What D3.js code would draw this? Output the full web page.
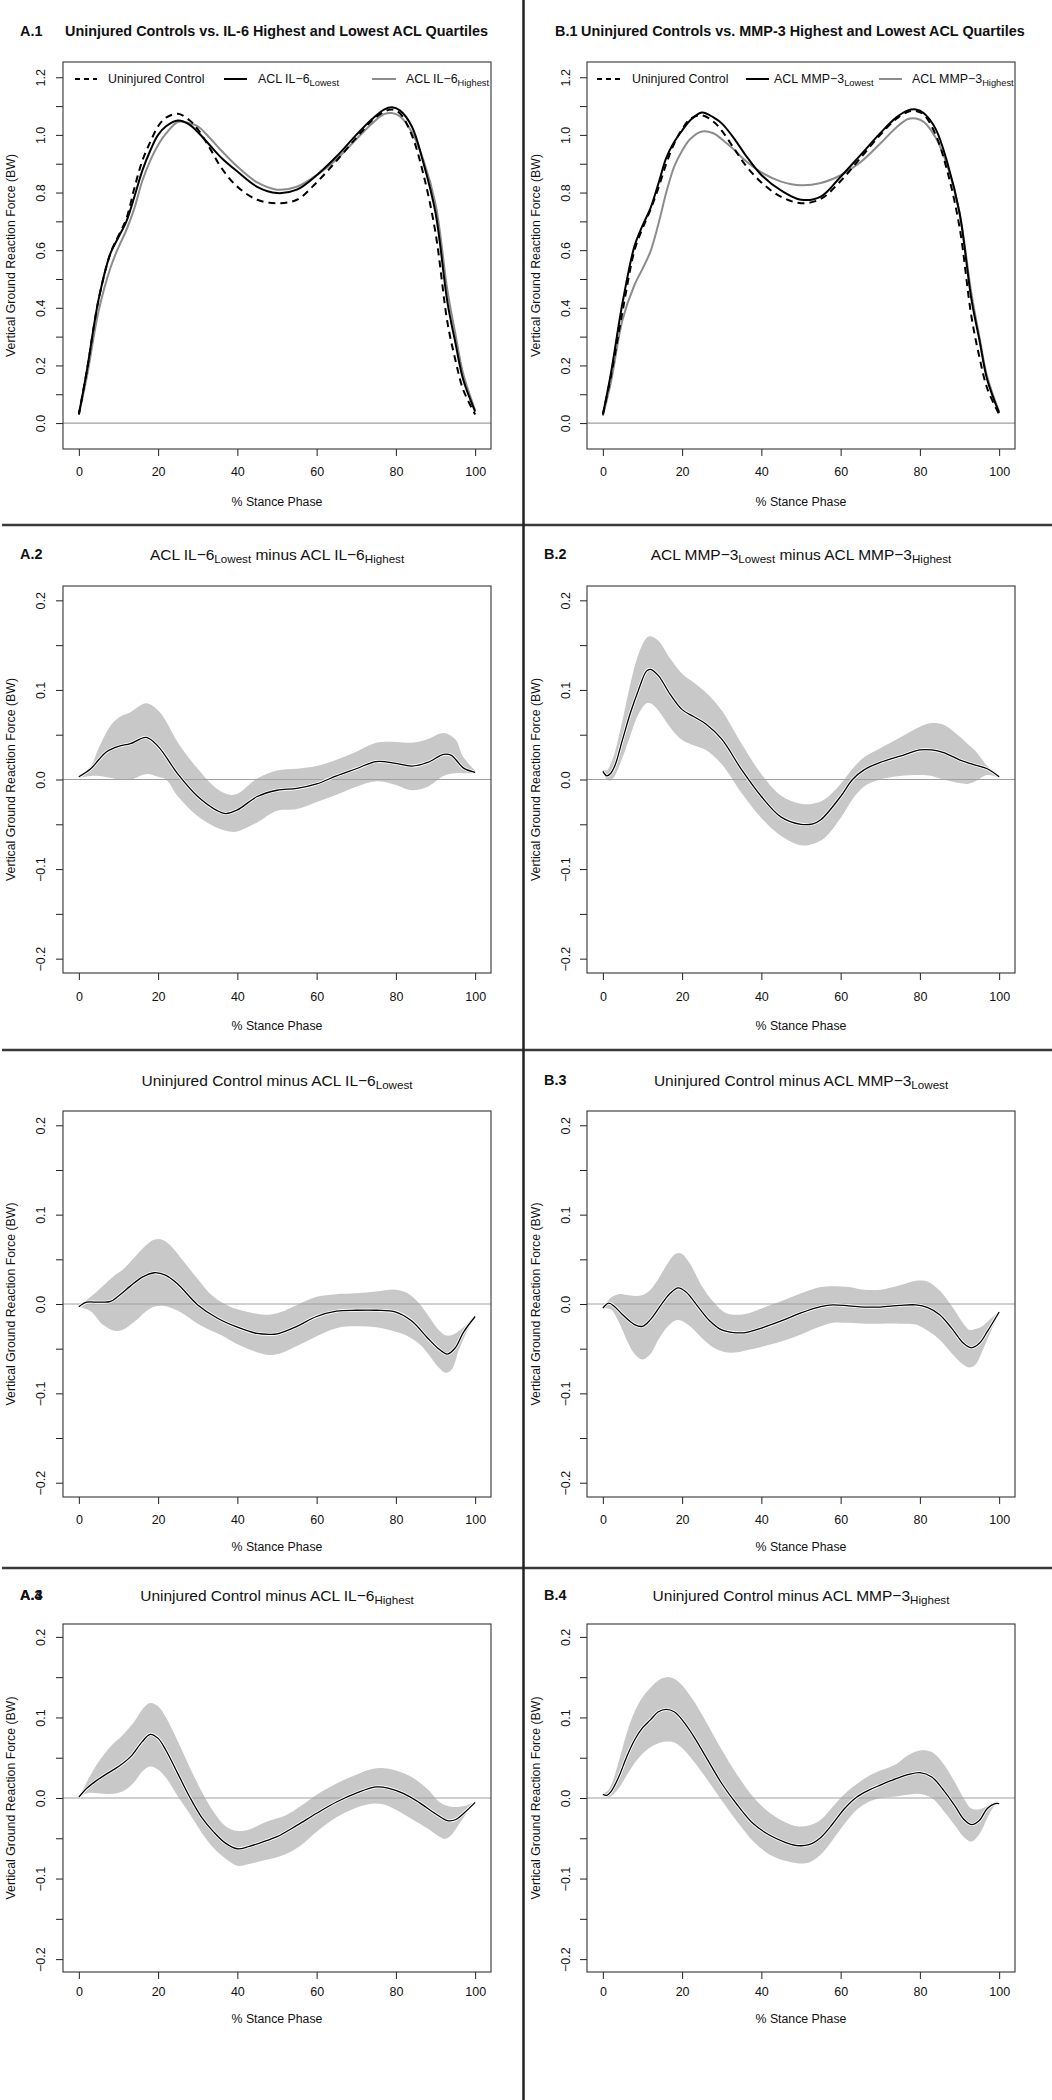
<!DOCTYPE html>
<html><head><meta charset="utf-8">
<script src="https://cdn.jsdelivr.net/npm/d3@7"></script>
<style>body{margin:0;background:#fff;} svg{display:block;}</style>
</head><body>
<script>
// ---------------- DATA ----------------
const xTicks = [0, 20, 40, 60, 80, 100];
const yTicksRaw = [0, 0.1, 0.2, 0.3, 0.4, 0.5, 0.6, 0.7, 0.8, 0.9, 1.0, 1.1, 1.2];
const yLabelsRaw = [0, 0.2, 0.4, 0.6, 0.8, 1.0, 1.2];
const yTicksDiff = [-0.2, -0.15, -0.1, -0.05, 0, 0.05, 0.1, 0.15, 0.2];
const yLabelsDiff = [-0.2, -0.1, 0, 0.1, 0.2];

const stance1X = [0,2,5,8,10,12,14,16,18,20,22,25,28,30,33,36,40,45,50,55,60,65,70,74,77,79,81,84,87,90,93,95,97,100];
const a1Control = [0.03,0.18,0.43,0.59,0.65,0.71,0.815,0.91,0.975,1.03,1.06,1.073,1.05,1.02,0.955,0.885,0.82,0.775,0.763,0.775,0.835,0.91,0.99,1.05,1.08,1.088,1.075,1.0,0.86,0.66,0.35,0.22,0.115,0.03];
const a1Lowest  = [0.03,0.18,0.43,0.59,0.645,0.7,0.785,0.875,0.945,1.0,1.03,1.05,1.035,1.01,0.965,0.92,0.873,0.82,0.798,0.81,0.86,0.925,1.0,1.055,1.088,1.096,1.085,1.03,0.9,0.73,0.42,0.28,0.15,0.04];
const a1Highest = [0.03,0.16,0.39,0.54,0.61,0.67,0.745,0.84,0.91,0.965,1.005,1.045,1.04,1.03,0.99,0.945,0.89,0.835,0.81,0.82,0.86,0.915,0.985,1.04,1.072,1.076,1.065,1.01,0.91,0.76,0.46,0.31,0.17,0.045];
const b1Control = [0.03,0.16,0.39,0.6,0.675,0.74,0.815,0.9,0.97,1.02,1.055,1.068,1.045,1.015,0.955,0.895,0.835,0.785,0.763,0.778,0.84,0.92,1.0,1.055,1.08,1.083,1.07,1.0,0.87,0.68,0.37,0.23,0.12,0.03];
const b1Lowest  = [0.03,0.17,0.42,0.615,0.685,0.745,0.83,0.92,0.975,1.015,1.05,1.078,1.06,1.04,0.99,0.93,0.861,0.807,0.775,0.786,0.855,0.93,1.006,1.06,1.085,1.088,1.075,1.02,0.9,0.73,0.43,0.29,0.15,0.035];
const b1Highest = [0.025,0.14,0.36,0.48,0.535,0.595,0.69,0.8,0.89,0.945,0.985,1.012,1.005,0.985,0.95,0.91,0.87,0.838,0.825,0.833,0.86,0.905,0.97,1.025,1.055,1.057,1.045,0.99,0.89,0.73,0.45,0.3,0.16,0.04];

const a2MeanX = [0,3,5,7,10,13,17,20,25,30,35,37,40,45,50,55,60,65,70,75,80,84,88,92,94,97,100];
const a2Mean  = [0.003,0.012,0.022,0.031,0.037,0.040,0.047,0.037,0.006,-0.019,-0.035,-0.038,-0.034,-0.019,-0.012,-0.010,-0.005,0.004,0.012,0.020,0.018,0.015,0.019,0.028,0.027,0.013,0.008];
const a2BandX = [0,3,5,8,10,13,17,20,22,25,30,35,38,40,45,50,55,60,65,70,75,80,84,88,92,95,97,100];
const a2Upper = [0.003,0.015,0.035,0.06,0.069,0.075,0.085,0.077,0.065,0.041,0.012,-0.011,-0.017,-0.016,0.001,0.01,0.012,0.015,0.022,0.031,0.041,0.042,0.041,0.045,0.052,0.045,0.025,0.01];
const a2Lower = [0.002,0.004,0.004,0.002,0.0,0.0,0.006,0.003,0.0,-0.019,-0.041,-0.054,-0.058,-0.058,-0.048,-0.035,-0.033,-0.025,-0.017,-0.008,-0.002,-0.006,-0.012,-0.008,0.004,0.007,0.007,0.007];

const b2MeanX = [0,1,2,3,5,7,9,11,12,14,17,20,23,26,30,35,40,45,50,53,55,60,63,66,70,75,80,83,86,90,94,97,100];
const b2Mean  = [0.009,0.004,0.007,0.015,0.045,0.075,0.100,0.121,0.123,0.116,0.095,0.078,0.070,0.062,0.045,0.011,-0.019,-0.042,-0.050,-0.0495,-0.045,-0.019,0.0,0.011,0.019,0.026,0.033,0.033,0.030,0.022,0.016,0.012,0.003];
const b2BandX = [0,1,2,3,5,7,9,11,12,14,17,20,23,26,30,35,40,45,50,53,56,60,63,66,70,75,80,83,86,90,92,94,97,100];
const b2Upper = [0.011,0.010,0.018,0.03,0.067,0.108,0.14,0.158,0.160,0.155,0.135,0.118,0.108,0.097,0.077,0.04,0.006,-0.018,-0.027,-0.027,-0.022,-0.005,0.012,0.025,0.035,0.047,0.059,0.063,0.061,0.048,0.040,0.032,0.015,0.004];
const b2Lower = [0.009,0.0,-0.001,0.004,0.025,0.05,0.073,0.085,0.085,0.077,0.058,0.044,0.038,0.033,0.017,-0.015,-0.043,-0.063,-0.0735,-0.072,-0.065,-0.043,-0.022,-0.0075,0.0,0.004,0.005,0.004,0.0,-0.004,-0.005,-0.002,0.005,0.002];

const a3MeanX = [0,2,5,8,10,13,16,19,22,25,30,35,40,45,48,50,55,60,65,70,75,80,84,88,91,93,95,97,100];
const a3Mean  = [-0.003,0.002,0.002,0.003,0.009,0.020,0.030,0.035,0.032,0.022,-0.001,-0.016,-0.026,-0.033,-0.034,-0.0335,-0.025,-0.014,-0.008,-0.007,-0.007,-0.009,-0.019,-0.038,-0.051,-0.056,-0.049,-0.032,-0.014];
const a3BandX = [0,3,6,9,11,14,17,19,21,23,26,30,33,36,40,45,48,51,55,60,65,70,75,80,83,86,88,91,92.5,94,96,98,100];
const a3Upper = [-0.002,0.008,0.02,0.032,0.038,0.052,0.066,0.072,0.072,0.066,0.05,0.028,0.012,0.002,-0.006,-0.011,-0.012,-0.009,-0.001,0.008,0.011,0.012,0.014,0.016,0.012,0.0,-0.012,-0.03,-0.035,-0.035,-0.03,-0.022,-0.013];
const a3Lower = [-0.003,-0.008,-0.023,-0.03,-0.029,-0.02,-0.008,-0.003,-0.002,-0.004,-0.01,-0.022,-0.029,-0.035,-0.045,-0.054,-0.057,-0.055,-0.047,-0.036,-0.027,-0.025,-0.026,-0.031,-0.036,-0.045,-0.055,-0.072,-0.077,-0.074,-0.05,-0.03,-0.014];

const b3MeanX = [0,1.5,3,5,8,10,12,15,17,19,21,24,27,30,33,36,40,45,50,55,58,62,66,70,75,79,82,85,88,91,93,95,97,100];
const b3Mean  = [-0.0045,0.001,-0.003,-0.012,-0.023,-0.025,-0.0175,0.001,0.012,0.018,0.0134,-0.003,-0.019,-0.029,-0.032,-0.032,-0.027,-0.019,-0.010,-0.003,-0.001,-0.002,-0.0034,-0.0034,-0.0015,-0.001,-0.004,-0.012,-0.027,-0.044,-0.049,-0.044,-0.031,-0.009];
const b3BandX = [0,2,4,6,8,10,12,14,16,18,19,20,22,25,28,31,34,37,40,45,50,55,58,62,66,70,75,79,82,85,88,91,92.5,94,96,98,100];
const b3Upper = [-0.004,0.007,0.011,0.01,0.009,0.01,0.016,0.028,0.043,0.055,0.057,0.056,0.045,0.02,0.002,-0.01,-0.012,-0.010,-0.005,0.003,0.012,0.019,0.02,0.019,0.016,0.016,0.021,0.026,0.025,0.015,-0.002,-0.022,-0.029,-0.028,-0.024,-0.016,-0.008];
const b3Lower = [-0.005,-0.006,-0.02,-0.04,-0.056,-0.062,-0.056,-0.04,-0.027,-0.019,-0.018,-0.019,-0.025,-0.038,-0.049,-0.054,-0.054,-0.051,-0.048,-0.042,-0.034,-0.025,-0.021,-0.021,-0.022,-0.022,-0.022,-0.023,-0.03,-0.04,-0.055,-0.068,-0.071,-0.068,-0.05,-0.03,-0.01];

const a4MeanX = [0,2,4,7,10,13,16,18,20,22,25,28,31,34,37,40,43,47,50,55,60,65,70,75,78,82,86,90,93,95,97,100];
const a4Mean  = [0.001,0.012,0.020,0.030,0.039,0.051,0.070,0.079,0.074,0.059,0.030,0.001,-0.024,-0.042,-0.056,-0.063,-0.060,-0.0535,-0.048,-0.034,-0.019,-0.005,0.006,0.0137,0.0124,0.0054,-0.006,-0.0195,-0.028,-0.027,-0.0195,-0.0054];
const a4BandX = [0,2,5,8,11,14,16,18,20,22,25,28,31,34,37,40,43,47,52,56,60,65,70,74,77,80,84,88,91,92.5,94,96,98,100];
const a4Upper = [0.001,0.02,0.045,0.064,0.078,0.095,0.11,0.118,0.114,0.1,0.07,0.038,0.008,-0.017,-0.035,-0.041,-0.039,-0.03,-0.022,-0.01,0.004,0.018,0.029,0.036,0.037,0.034,0.026,0.011,-0.005,-0.009,-0.011,-0.011,-0.009,-0.004];
const a4Lower = [0.001,0.006,0.006,0.005,0.008,0.02,0.033,0.039,0.035,0.025,0.002,-0.02,-0.043,-0.062,-0.075,-0.084,-0.082,-0.077,-0.07,-0.059,-0.042,-0.024,-0.012,-0.007,-0.008,-0.0145,-0.026,-0.038,-0.048,-0.0506,-0.046,-0.032,-0.018,-0.006];

const b4X     = [0,1,2,4,6,8,10,12,14,16,18,20,23,26,30,34,38,42,46,49,52,55,58,61,64,67,70,74,77,80,83,86,89,91,93,95,97,99,100];
const b4Mean  = [0.0046,0.0033,0.0075,0.026,0.051,0.072,0.087,0.097,0.107,0.110,0.107,0.097,0.076,0.051,0.018,-0.009,-0.032,-0.046,-0.055,-0.059,-0.058,-0.049,-0.032,-0.013,0.001,0.0095,0.016,0.024,0.029,0.0315,0.026,0.0095,-0.011,-0.026,-0.033,-0.028,-0.013,-0.007,-0.007];
const b4Upper = [0.006,0.008,0.015,0.045,0.08,0.107,0.125,0.137,0.146,0.15,0.148,0.14,0.12,0.095,0.06,0.028,0.001,-0.018,-0.03,-0.035,-0.034,-0.027,-0.011,0.005,0.017,0.027,0.034,0.042,0.053,0.059,0.057,0.042,0.018,0.0,-0.013,-0.014,-0.01,-0.005,-0.005];
const b4Lower = [0.004,0.001,0.002,0.012,0.028,0.043,0.055,0.063,0.068,0.07,0.069,0.062,0.045,0.025,-0.003,-0.03,-0.054,-0.07,-0.078,-0.081,-0.08,-0.07,-0.052,-0.032,-0.015,-0.005,0.0,0.002,0.004,0.005,0.0,-0.016,-0.035,-0.048,-0.054,-0.045,-0.025,-0.009,-0.007];

// text labels
const xTitle = "% Stance Phase";
const yTitle = "Vertical Ground Reaction Force (BW)";
const legendA = [[["Uninjured Control",0]], [["ACL IL\u22126",0],["Lowest",1]], [["ACL IL\u22126",0],["Highest",1]]];
const legendB = [[["Uninjured Control",0]], [["ACL MMP\u22123",0],["Lowest",1]], [["ACL MMP\u22123",0],["Highest",1]]];

// ---------------- LAYOUT ----------------
const W = 1052, H = 2100;
const FONT = '"Liberation Sans", Arial, Helvetica, sans-serif';
const cols = [
  {left: 63, right: 491, labelX: 20, yTickX: 40.5, yTitleX: 11},
  {left: 587, right: 1015, labelX: 544, yTickX: 565.5, yTitleX: 536}
];
const rows = [
  {top: 62, bottom: 449, titleY: 31, tickLabY: 472, xTitleY: 502},
  {top: 586, bottom: 973, titleY: 554, tickLabY: 997, xTitleY: 1026},
  {top: 1111, bottom: 1497, titleY: 1080, tickLabY: 1520, xTitleY: 1547},
  {top: 1624, bottom: 1972, titleY: 1595, tickLabY: 1992, xTitleY: 2019}
];

const svg = d3.select("body").append("svg")
  .attr("width", W).attr("height", H)
  .style("font-family", FONT);
svg.append("rect").attr("width", W).attr("height", H).attr("fill", "#fff");

function richText(g, x, y, parts, size, anchor, weight) {
  const t = g.append("text").attr("x", x).attr("y", y)
    .attr("font-size", size).attr("text-anchor", anchor || "start")
    .attr("font-weight", weight || "normal").attr("fill", "#111");
  let inSub = false;
  const shift = size * 0.22;
  parts.forEach(([s, isSub]) => {
    const ts = t.append("tspan").text(s);
    if (isSub && !inSub) { ts.attr("dy", shift).attr("font-size", size * 0.75); inSub = true; }
    else if (!isSub && inSub) { ts.attr("dy", -shift); inSub = false; }
    else if (isSub) ts.attr("font-size", size * 0.75);
  });
  return t;
}

const curve = d3.curveCatmullRom.alpha(0.5);

function makePanel(ci, ri, yDomain, yTicks, yLabels) {
  const c = cols[ci], r = rows[ri];
  const x = d3.scaleLinear().domain([-4, 104]).range([c.left, c.right]);
  const y = d3.scaleLinear().domain(yDomain).range([r.bottom, r.top]);
  const g = svg.append("g");
  const fmt = d3.format(".1f");
  const has = v => yLabels.some(l => Math.abs(l - v) < 1e-9);

  const ya = g.append("g").attr("transform", `translate(${c.left},0)`)
    .call(d3.axisLeft(y).tickValues(yTicks).tickSize(7).tickFormat(d => has(d) ? fmt(d) : ""));
  ya.select(".domain").remove();
  ya.selectAll(".tick line").attr("stroke", "#222");
  ya.selectAll(".tick text")
    .attr("x", null).attr("dy", "0.35em")
    .attr("transform", `translate(${c.yTickX - c.left},0) rotate(-90)`)
    .attr("text-anchor", "middle").attr("font-size", 12.5).attr("fill", "#111")
    .attr("font-family", FONT);

  const xa = g.append("g").attr("transform", `translate(0,${r.bottom})`)
    .call(d3.axisBottom(x).tickValues(xTicks).tickSize(7).tickFormat(d3.format("d")));
  xa.select(".domain").remove();
  xa.selectAll(".tick line").attr("stroke", "#222");
  xa.selectAll(".tick text").attr("y", r.tickLabY - r.bottom).attr("dy", "0.35em")
    .attr("font-size", 12.5).attr("fill", "#111").attr("font-family", FONT);

  g.append("text").attr("x", (c.left + c.right) / 2).attr("y", r.xTitleY).attr("dy", "0.35em")
    .attr("text-anchor", "middle").attr("font-size", 12.3).attr("fill", "#111").text(xTitle);
  g.append("text").attr("transform", `translate(${c.yTitleX},${(r.top + r.bottom) / 2}) rotate(-90)`)
    .attr("dy", "0.35em").attr("text-anchor", "middle").attr("font-size", 12.3).attr("fill", "#111").text(yTitle);

  const plot = g.append("g");
  return {x, y, g, plot, c, r};
}

function drawBox(p) {
  p.g.append("rect").attr("x", p.c.left).attr("y", p.r.top)
    .attr("width", p.c.right - p.c.left).attr("height", p.r.bottom - p.r.top)
    .attr("fill", "none").attr("stroke", "#333").attr("stroke-width", 1.1);
}

function zeroLine(p) {
  p.plot.append("line").attr("x1", p.c.left).attr("x2", p.c.right)
    .attr("y1", p.y(0)).attr("y2", p.y(0)).attr("stroke", "#a0a0a0").attr("stroke-width", 1.2);
}

function drawLine(p, xs, ys, color, width, dash) {
  const line = d3.line().x(d => p.x(d[0])).y(d => p.y(d[1])).curve(curve);
  const path = p.plot.append("path").datum(d3.zip(xs, ys)).attr("d", line)
    .attr("fill", "none").attr("stroke", color).attr("stroke-width", width)
    .attr("stroke-linejoin", "round");
  if (dash) path.attr("stroke-dasharray", dash);
}

function drawBand(p, bx, up, lo, mx, mean) {
  const area = d3.area().x(d => p.x(d[0])).y0(d => p.y(d[2])).y1(d => p.y(d[1])).curve(curve);
  p.plot.append("path").datum(d3.zip(bx, up, lo)).attr("d", area).attr("fill", "#c8c8c8").attr("stroke", "none");
  zeroLine(p);
  drawLine(p, mx, mean, "#ffffff", 3.0);
  drawLine(p, mx, mean, "#000000", 1.3);
}

function legend(p, entries, spec) {
  const ly = 79;
  spec.forEach((s, i) => {
    p.g.append("line").attr("x1", s.x1).attr("x2", s.x2).attr("y1", ly).attr("y2", ly)
      .attr("stroke", s.color).attr("stroke-width", 2).attr("stroke-dasharray", s.dash || null);
    richText(p.g, s.tx, ly + 4.4, entries[i], 12.4, "start");
  });
}

// ---------------- ROW 1 ----------------
const rawDomain = [-0.09, 1.253];
const diffDomain = [-0.216, 0.216];
const TITLE_BOLD = 14.4, TITLE_SUB = 15.5;

const pA1 = makePanel(0, 0, rawDomain, yTicksRaw, yLabelsRaw);
zeroLine(pA1);
drawLine(pA1, stance1X, a1Highest, "#8c8c8c", 2);
drawLine(pA1, stance1X, a1Lowest, "#000", 2);
drawLine(pA1, stance1X, a1Control, "#000", 2, "7,5");
drawBox(pA1);
legend(pA1, legendA, [
  {x1: 75, x2: 97, tx: 108, color: "#000", dash: "5,4"},
  {x1: 224, x2: 247, tx: 258, color: "#000"},
  {x1: 372, x2: 396, tx: 406, color: "#8c8c8c"}
]);
richText(svg, 20, 31 + 5, [["A.1", 0]], TITLE_BOLD, "start", "bold");
richText(svg, 65, 31 + 5, [["Uninjured Controls vs. IL-6 Highest and Lowest ACL Quartiles", 0]], TITLE_BOLD, "start", "bold");

const pB1 = makePanel(1, 0, rawDomain, yTicksRaw, yLabelsRaw);
zeroLine(pB1);
drawLine(pB1, stance1X, b1Highest, "#8c8c8c", 2);
drawLine(pB1, stance1X, b1Lowest, "#000", 2);
drawLine(pB1, stance1X, b1Control, "#000", 2, "7,5");
drawBox(pB1);
legend(pB1, legendB, [
  {x1: 597, x2: 623, tx: 632, color: "#000", dash: "5,4"},
  {x1: 746, x2: 769, tx: 774, color: "#000"},
  {x1: 879, x2: 902, tx: 912, color: "#8c8c8c"}
]);
richText(svg, 555, 31 + 5, [["B.1", 0]], TITLE_BOLD, "start", "bold");
richText(svg, 581, 31 + 5, [["Uninjured Controls vs. MMP-3 Highest and Lowest ACL Quartiles", 0]], TITLE_BOLD, "start", "bold");

// ---------------- DIFFERENCE PANELS ----------------
const diffPanels = [
  {ci: 0, ri: 1, label: ["A.2"], title: [["ACL IL\u22126",0],["Lowest",1],[" minus ACL IL\u22126",0],["Highest",1]],
   bx: a2BandX, up: a2Upper, lo: a2Lower, mx: a2MeanX, mean: a2Mean},
  {ci: 1, ri: 1, label: ["B.2"], title: [["ACL MMP\u22123",0],["Lowest",1],[" minus ACL MMP\u22123",0],["Highest",1]],
   bx: b2BandX, up: b2Upper, lo: b2Lower, mx: b2MeanX, mean: b2Mean},
  {ci: 0, ri: 2, label: [], title: [["Uninjured Control minus ACL IL\u22126",0],["Lowest",1]],
   bx: a3BandX, up: a3Upper, lo: a3Lower, mx: a3MeanX, mean: a3Mean},
  {ci: 1, ri: 2, label: ["B.3"], title: [["Uninjured Control minus ACL MMP\u22123",0],["Lowest",1]],
   bx: b3BandX, up: b3Upper, lo: b3Lower, mx: b3MeanX, mean: b3Mean},
  {ci: 0, ri: 3, label: ["A.3", "A.4"], title: [["Uninjured Control minus ACL IL\u22126",0],["Highest",1]],
   bx: a4BandX, up: a4Upper, lo: a4Lower, mx: a4MeanX, mean: a4Mean},
  {ci: 1, ri: 3, label: ["B.4"], title: [["Uninjured Control minus ACL MMP\u22123",0],["Highest",1]],
   bx: b4X, up: b4Upper, lo: b4Lower, mx: b4X, mean: b4Mean}
];

diffPanels.forEach(d => {
  const p = makePanel(d.ci, d.ri, diffDomain, yTicksDiff, yLabelsDiff);
  drawBand(p, d.bx, d.up, d.lo, d.mx, d.mean);
  drawBox(p);
  const c = cols[d.ci], r = rows[d.ri];
  richText(svg, (c.left + c.right) / 2, r.titleY + 5.5, d.title, TITLE_SUB, "middle");
  d.label.forEach(l => richText(svg, c.labelX, r.titleY + 5, [[l, 0]], TITLE_BOLD, "start", "bold"));
});

// ---------------- DIVIDERS ----------------
[525, 1050, 1568].forEach(yy => {
  svg.append("line").attr("x1", 2).attr("x2", W).attr("y1", yy).attr("y2", yy)
    .attr("stroke", "#3a3a3a").attr("stroke-width", 2.5);
});
svg.append("line").attr("x1", 523.5).attr("x2", 523.5).attr("y1", 0).attr("y2", H)
  .attr("stroke", "#222").attr("stroke-width", 2.5);
</script>
</body></html>
